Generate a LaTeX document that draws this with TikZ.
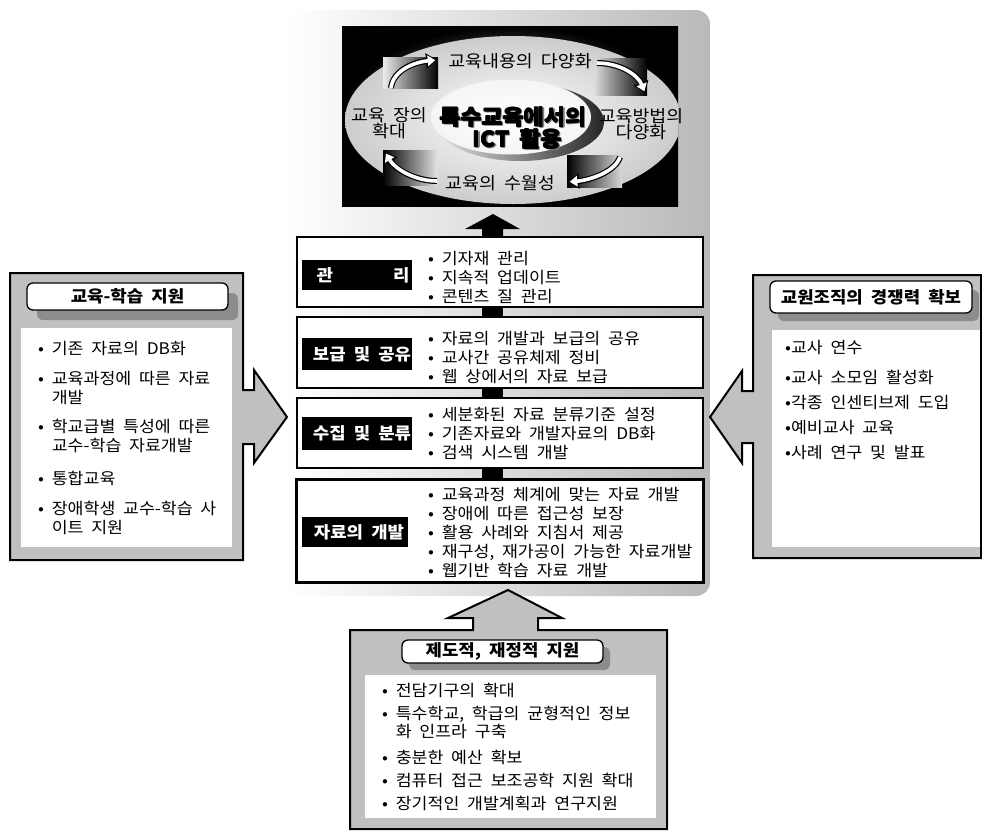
\documentclass[tikz,border=0pt]{standalone}
\usepackage{fontspec}
\setmainfont{Noto Sans CJK KR}[FakeStretch=1.08, WordSpace=2.0]
\usetikzlibrary{arrows.meta}
\newcommand\bodyfont{\fontsize{16}{19}\selectfont}
\newcommand\headfont{\bfseries\fontsize{16.5}{18}\selectfont}
\newcommand\ellfont{\fontsize{17}{15}\selectfont}
\newcommand\bigfont{\bfseries\fontsize{21}{22}\selectfont}
\definecolor{panelgray}{HTML}{C0C0C0}
\definecolor{shadowgray}{HTML}{8C8C8C}
\begin{document}
\begin{tikzpicture}[x=1pt,y=-1pt,
  txt/.style={anchor=west, align=left, inner sep=0pt, font=\bodyfont},
  ctxt/.style={align=center, inner sep=0pt, font=\ellfont},
  stage/.style={draw=black, line width=2pt, fill=white, minimum width=406pt, inner sep=0pt},
  lab/.style={fill=black, text=white, inner sep=0pt, minimum width=110pt, font=\headfont},
  side/.style={draw=black, line width=2pt, fill=panelgray, line join=miter},
  ttl/.style={draw=black, line width=1.3pt, fill=white, rounded corners=6pt, inner sep=0pt, font=\headfont},
  shd/.style={fill=shadowgray, rounded corners=6pt},
  big/.style={font=\bigfont, inner sep=0pt},
  carrowout/.style={line width=6pt, -{Triangle[length=11pt,width=15pt]}},
  carrowin/.style={white, line width=3.6pt, shorten >=1.8pt, -{Triangle[length=7.5pt,width=10.5pt]}}
]
\useasboundingbox (0,0) rectangle (982,831);
\fill[white] (0,0) rectangle (982,831);

% ---------- central panel ----------
\shade[rounded corners=14pt, left color=white, middle color=gray!18, right color=gray!55] (287,10) rectangle (710,596);

% ---------- central picture ----------
\begin{scope}
  \clip (342,26) rectangle (678,206);
  \shade[inner color=gray!55, outer color=black] (342,26) rectangle (678,206);
  \shade[inner color=white, outer color=gray!40] (513,120) ellipse [x radius=168, y radius=84];
  \shade[left color=gray!15, right color=black] (383,57) rectangle (438,88);
  \shade[left color=gray!30, right color=black] (595,58) rectangle (647,95);
  \shade[left color=black, right color=gray!30] (567,155) rectangle (622,187);
  \shade[left color=black, right color=gray!20] (383,150) rectangle (438,185);
\end{scope}
% curved arrows
\draw[carrowout] (391,88) .. controls (393,70) and (415,62) .. (437,60);
\draw[carrowin]  (391,88) .. controls (393,70) and (415,62) .. (437,60);
\draw[carrowout] (597,63) .. controls (620,63) and (638,75) .. (645,93);
\draw[carrowin]  (597,63) .. controls (620,63) and (638,75) .. (645,93);
\draw[carrowout] (620,157) .. controls (615,172) and (590,180) .. (568,182);
\draw[carrowin]  (620,157) .. controls (615,172) and (590,180) .. (568,182);
\draw[carrowout] (437,181) .. controls (415,181) and (395,169) .. (385,152);
\draw[carrowin]  (437,181) .. controls (415,181) and (395,169) .. (385,152);
% inner ellipse
\shade[left color=gray!20, right color=gray!30!black] (520,122) ellipse [x radius=84, y radius=39];
\shade[inner color=white, outer color=gray!8] (511,117) ellipse [x radius=80, y radius=37.5];
\foreach \dx/\dy in {1.4/1.4, 1.8/1.0} {
  \node[big, text=gray] at (513+\dx,117+\dy) {특수교육에서의};
  \node[big, text=gray] at (517+\dx,139+\dy) {ICT 활용};
}
\foreach \dx/\dy in {0/0, 0.45/0, 0/0.45, 0.45/0.45} {
  \node[big] at (513+\dx,117+\dy) {특수교육에서의};
  \node[big] at (517+\dx,139+\dy) {ICT 활용};
}
\node[big, text opacity=0] (ct1) at (513,117) {특수교육에서의};
\node[big, text opacity=0] (ct2) at (517,139) {ICT 활용};
\node[ctxt] (e1) at (520,61) {교육내용의 다양화};
\node[ctxt] (e2) at (641,124) {교육방법의\\다양화};
\node[ctxt] (e3) at (500,183) {교육의 수월성};
\node[ctxt, font=\fontsize{17}{14}\selectfont] (e4) at (389,123) {교육 장의\\확대};

% ---------- stage boxes ----------
\node[stage, minimum height=70pt] (mgmt) at (500,272) {};
\node[stage, minimum height=71pt] (share) at (500,352.5) {};
\node[stage, minimum height=70pt] (coll) at (500,433) {};
\node[stage, minimum height=102pt] (dev) at (500,531) {};
% connector bars
\fill[black] ([xshift=-18pt]mgmt.south) rectangle ([xshift=3pt]share.north);
\fill[black] ([xshift=-18pt]share.south) rectangle ([xshift=3pt]coll.north);
\fill[black] ([xshift=-18pt]coll.south) rectangle ([xshift=3pt]dev.north);
% black arrow up
\coordinate (tipc) at (493,214);
\fill[black] ([xshift=-18pt]mgmt.north) -- (482,229) -- (465,229) -- (tipc) -- (520,229) -- (503,229) -- ([xshift=3pt]mgmt.north) -- cycle;

% labels
\node[lab, minimum height=30pt] (l1) at (357,275) {\hspace*{12pt}\makebox[93pt]{관\hfill 리}};
\node[lab, minimum height=32pt] (l2) at (357,354) {\hspace*{10pt}보급 및 공유};
\node[lab, minimum height=33pt] (l3) at (357,433.5) {\hspace*{10pt}수집 및 분류};
\node[lab, minimum height=30pt, minimum width=106pt] (l4) at (355,532) {\hspace*{8pt}자료의 개발};

% items
\node[txt] (m1) at (428,277.5) {• 기자재 관리\\• 지속적 업데이트\\• 콘텐츠 질 관리};
\node[txt] (s1) at (428,357.5) {• 자료의 개발과 보급의 공유\\• 교사간 공유체제 정비\\• 웹 상에서의 자료 보급};
\node[txt] (c1) at (428,434) {• 세분화된 자료 분류기준 설정\\• 기존자료와 개발자료의 DB화\\• 검색 시스템 개발};
\begin{scope}
  \clip (dev.north west) rectangle (dev.south east);
  \node[txt] (d1) at (428,532.5) {• 교육과정 체계에 맞는 자료 개발\\• 장애에 따른 접근성 보장\\• 활용 사례와 지침서 제공\\• 재구성, 재가공이 가능한 자료개발\\• 웹기반 학습 자료 개발};
\end{scope}
\draw[line width=2pt] (dev.north west) rectangle (dev.south east);

% ---------- left box ----------
\path[side] (10,273) -- (243,273) -- (243,390) -- (254,390) -- (254,370) -- (287,417)
  -- (254,463) -- (254,444) -- (243,444) -- (243,560) -- (10,560) -- cycle;
\fill[white] (21,328) rectangle (232,547);
\fill[shd] (37,293) rectangle (238,320);
\node[ttl, minimum width=201pt, minimum height=27pt] (lt) at (127.5,296.5) {교육-학습 지원};
\node[txt] (la) at (38,349) {• 기존 자료의 DB화};
\node[txt] (lb) at (38,387.5) {• 교육과정에 따른 자료\\\phantom{• }개발};
\node[txt] (lc) at (38,436) {• 학교급별 특성에 따른\\\phantom{• }교수-학습 자료개발};
\node[txt] (ld) at (38,478) {• 통합교육};
\node[txt] (le) at (38,517.5) {• 장애학생 교수-학습 사\\\phantom{• }이트 지원};

% ---------- right box ----------
\path[side] (753,275) -- (981,275) -- (981,558) -- (753,558) -- (753,443) -- (742,443)
  -- (742,463) -- (710,417) -- (742,371) -- (742,391) -- (753,391) -- cycle;
\fill[white] (772,330) rectangle (980,547);
\fill[shd] (778,290) rectangle (979,321);
\node[ttl, minimum width=202pt, minimum height=32pt] (rt) at (871,297) {교원조직의 경쟁력 확보};
\node[txt] (ra) at (785,347) {•교사 연수};
\node[txt] (rb) at (785,377) {•교사 소모임 활성화};
\node[txt] (rc) at (785,402) {•각종 인센티브제 도입};
\node[txt] (rd) at (785,428) {•예비교사 교육};
\node[txt] (re) at (785,453) {•사례 연구 및 발표};

% ---------- bottom box ----------
\path[side] (350,630) -- (473,630) -- (473,618) -- (448,618) -- (508,590) -- (562,618)
  -- (538,618) -- (538,630) -- (667,630) -- (667,829) -- (350,829) -- cycle;
\fill[white] (365,675) rectangle (656,818);
\fill[shd] (409,647) rectangle (610,670);
\node[ttl, minimum width=201pt, minimum height=23pt] (bt) at (502.5,651.5) {제도적, 재정적 지원};
\node[txt] (ba) at (382,690) {• 전담기구의 확대};
\node[txt, font=\fontsize{16}{15.5}\selectfont] (bb) at (382,722.5) {• 특수학교, 학급의 균형적인 정보\\\phantom{• }화 인프라 구축};
\node[txt] (bc) at (382,757) {• 충분한 예산 확보};
\node[txt] (bd) at (382,780) {• 컴퓨터 접근 보조공학 지원 확대};
\node[txt] (be) at (382,803) {• 장기적인 개발계획과 연구지원};
\end{tikzpicture}
\end{document}
